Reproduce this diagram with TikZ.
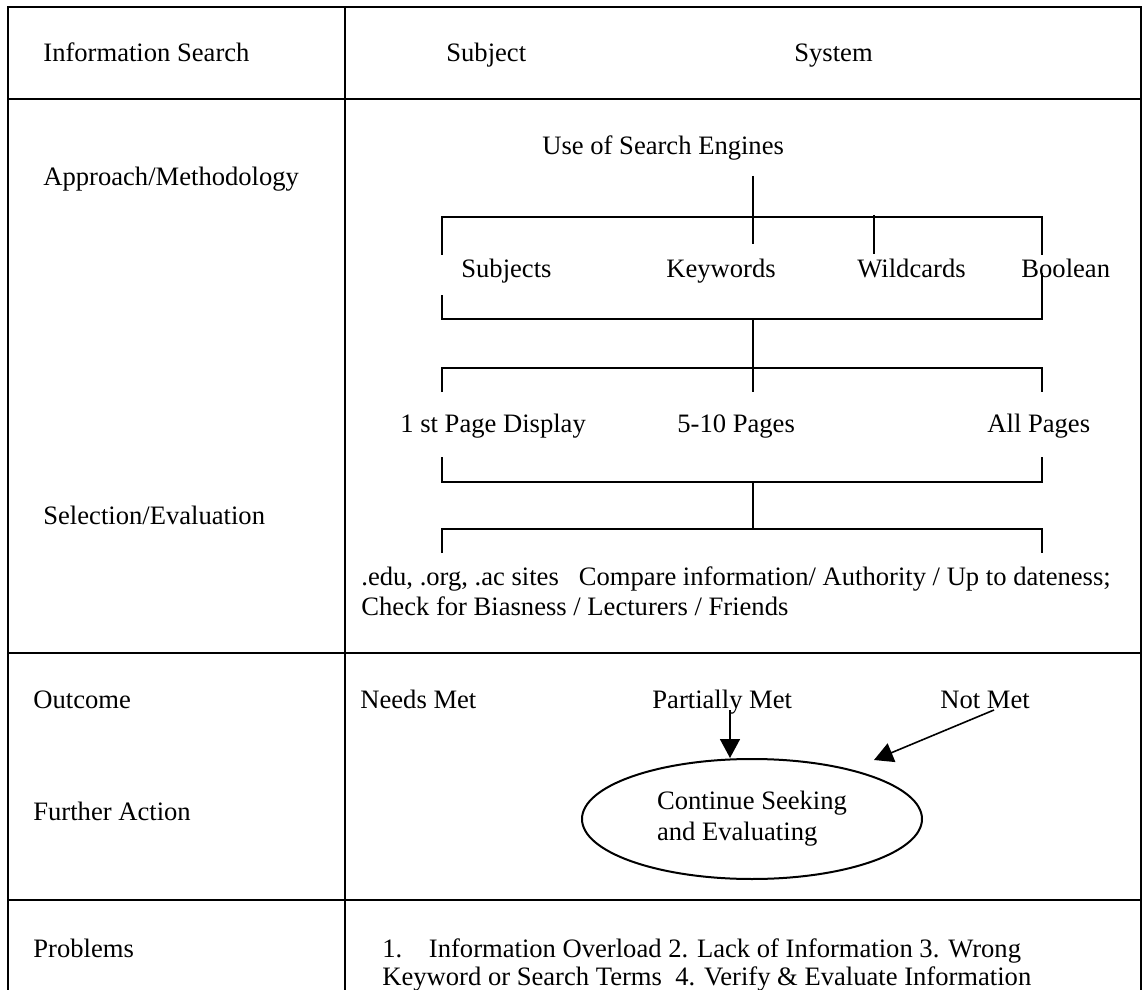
\documentclass[tikz,border=0pt]{standalone}
\usepackage{fontspec}
\setmainfont{Liberation Serif}
\usetikzlibrary{shapes.geometric,arrows.meta}
\newcommand\txtfont{\fontsize{13.3}{15.5}\selectfont}
\begin{document}
\begin{tikzpicture}[x=0.5pt,y=-0.5pt,
  lbl/.style={anchor=base west,inner sep=0pt,font=\txtfont},
  grid/.style={line width=1.4pt},
  tree/.style={line width=1pt},
  arr/.style={line width=0.8pt,-{Triangle[width=10pt,length=9.5pt]}},
  oval/.style={ellipse,draw,line width=1pt,minimum width=170pt,minimum height=60pt,inner sep=0pt,align=left,font=\txtfont}]
\useasboundingbox (0,0) rectangle (1142,990);
% table grid
\draw[grid] (8,990) -- (8,7) -- (1141,7) -- (1141,990);
\draw[grid] (345,7) -- (345,990);
\draw[grid] (8,99) -- (1141,99);
\draw[grid] (8,653) -- (1141,653);
\draw[grid] (8,900) -- (1141,900);
% left column labels
\node[lbl] (infosearch) at (43,62) {Information Search};
\node[lbl] (approach) at (43,185) {Approach/Methodology};
\node[lbl] (selection) at (43,524) {Selection/Evaluation};
\node[lbl] (outcome) at (33,708) {Outcome};
\node[lbl] (further) at (33,820) {Further Action};
\node[lbl] (problems) at (33,957) {Problems};
% header
\node[lbl] (subject) at (446,62) {Subject};
\node[lbl] (system) at (794,62) {System};
% tree
\node[lbl] (use) at (542,155) {Use of Search Engines};
\node[lbl] (subjects) at (461,278) {Subjects};
\node[lbl] (keywords) at (666,278) {Keywords};
\node[lbl] (wildcards) at (857,278) {Wildcards};
\node[lbl] (boolean) at (1021,278) {Boolean};
\node[lbl] (first) at (400,432) {1 st Page Display};
\node[lbl] (five) at (677,432) {5-10 Pages};
\node[lbl] (all) at (987,432) {All Pages};
\node[lbl] (edu) at (361,585) {.edu, .org, .ac sites~~~Compare information/ Authority / Up to dateness;};
\node[lbl] (check) at (361,615) {Check for Biasness / Lecturers / Friends};
% tree coordinates
\coordinate (r0) at (753,176);
\coordinate (r1) at (753,244);
\coordinate (b1l) at (442,217);
\coordinate (b1r) at (1042,217);
\coordinate (w0) at (874,215);
\coordinate (w1) at (874,254);
\coordinate (b2l) at (442,319);
\coordinate (b2r) at (1042,319);
\coordinate (b3l) at (442,368);
\coordinate (b3r) at (1042,368);
\coordinate (b4l) at (442,482);
\coordinate (b4r) at (1042,482);
\coordinate (b5l) at (442,529);
\coordinate (b5r) at (1042,529);
\draw[tree] (r0) -- (r1);
\draw[tree] (442,255) -- (b1l) -- (b1r) -- (1042,255);
\draw[tree] (w0) -- (w1);
\draw[tree] (442,295) -- (b2l) -- (b2r) -- (1042,273);
\draw[tree] (753,319) -- (753,368);
\draw[tree] (442,392) -- (b3l) -- (b3r) -- (1042,392);
\draw[tree] (753,368) -- (753,392);
\draw[tree] (442,457) -- (b4l) -- (b4r) -- (1042,457);
\draw[tree] (753,482) -- (753,529);
\draw[tree] (442,553) -- (b5l) -- (b5r) -- (1042,553);
% outcome
\node[lbl] (needs) at (360,708) {Needs Met};
\node[lbl] (partial) at (652,708) {Partially Met};
\node[lbl] (notmet) at (940,708) {Not Met};
\node[oval] (cont) at (752,819) {Continue Seeking\\and Evaluating};
\coordinate (pmA) at (730,710);
\coordinate (nmA) at (994,710);
\coordinate (nmB) at (874,760);
\draw[arr] (pmA) -- (pmA |- cont.north);
\draw[arr] (nmA) -- (nmB);
% problems
\node[lbl] (prob1) at (382,957) {1.\hspace{1em}Information Overload 2. Lack of Information 3. Wrong};
\node[lbl] (prob2) at (382,985) {Keyword or Search Terms~~4. Verify \& Evaluate Information};
\end{tikzpicture}
\end{document}
